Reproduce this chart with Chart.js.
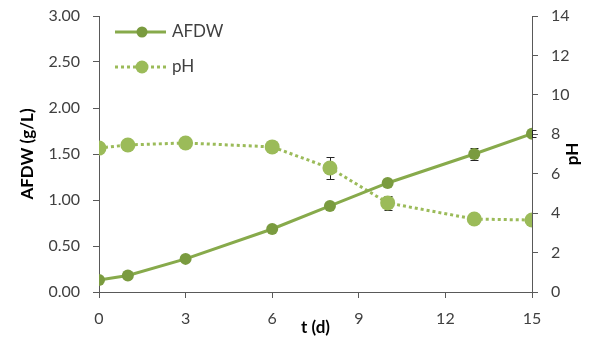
<!DOCTYPE html>
<html>
<head>
<meta charset="utf-8">
<script src="https://cdn.jsdelivr.net/npm/chart.js@4"></script>
<style>
  html, body { margin: 0; padding: 0; background: #fff; }
  #wrap { width: 590px; height: 343px; }
</style>
</head>
<body>
<div id="wrap"><canvas id="chart"></canvas></div>
<script>
// time points (days)
const days = [0, 1, 3, 6, 8, 10, 13, 15];
// ash-free dry weight, g/L
const afdw = [0.13, 0.18, 0.36, 0.685, 0.935, 1.185, 1.50, 1.72];
const afdwErr = [0, 0, 0, 0, 0, 0.01, 0.06, 0.04];
// pH
const ph = [7.3, 7.46, 7.56, 7.36, 6.29, 4.52, 3.7, 3.65];
const phErr = [0, 0, 0, 0, 0.54, 0.35, 0, 0];

const xTicks = [0, 3, 6, 9, 12, 15];

const FONT = "Lato, 'Open Sans', sans-serif";
const AXIS_COLOR = '#595959';
const TEXT_COLOR = '#404040';
const AFDW_LINE = '#87AA4B';
const AFDW_MARK = '#7A9B3F';
const PH_COLOR = '#9BBB59';

// error bars, drawn through the scales
const errorBars = {
  id: 'errorBars',
  beforeDatasetsDraw(chart) {
    const ctx = chart.ctx;
    const x = chart.scales.x;
    const sets = [[afdw, afdwErr, chart.scales.y], [ph, phErr, chart.scales.y2]];
    ctx.save();
    ctx.strokeStyle = '#262626';
    ctx.lineWidth = 1;
    sets.forEach(([vals, errs, sc]) => {
      vals.forEach((v, i) => {
        if (!errs[i]) return;
        const px = Math.round(x.getPixelForValue(days[i])) + 0.5;
        const top = Math.round(sc.getPixelForValue(v + errs[i])) + 0.5;
        const bot = Math.round(sc.getPixelForValue(v - errs[i])) + 0.5;
        ctx.beginPath();
        ctx.moveTo(px, top); ctx.lineTo(px, bot);
        ctx.moveTo(px - 4, top); ctx.lineTo(px + 4, top);
        ctx.moveTo(px - 4, bot); ctx.lineTo(px + 4, bot);
        ctx.stroke();
      });
    });
    ctx.restore();
  }
};

// legend inside plot + right axis title (reads bottom to top)
const extras = {
  id: 'extras',
  afterDraw(chart) {
    const ctx = chart.ctx;
    const a = chart.chartArea;
    ctx.save();
    const lx = a.left + 16;
    const rows = [
      { y: a.top + 16, label: 'AFDW', line: AFDW_LINE, mark: AFDW_MARK, dash: [], r: 5.5 },
      { y: a.top + 51, label: 'pH', line: PH_COLOR, mark: PH_COLOR, dash: [3, 3], r: 6.5 }
    ];
    rows.forEach(row => {
      ctx.strokeStyle = row.line;
      ctx.lineWidth = 3;
      ctx.setLineDash(row.dash);
      ctx.beginPath();
      ctx.moveTo(lx, row.y); ctx.lineTo(lx + 51, row.y);
      ctx.stroke();
      ctx.setLineDash([]);
      ctx.fillStyle = row.mark;
      ctx.beginPath();
      ctx.arc(lx + 27, row.y, row.r, 0, Math.PI * 2);
      ctx.fill();
      ctx.fillStyle = TEXT_COLOR;
      ctx.font = '17px ' + FONT;
      ctx.textBaseline = 'middle';
      ctx.textAlign = 'left';
      ctx.fillText(row.label, lx + 57, row.y);
    });
    ctx.translate(573, (a.top + a.bottom) / 2);
    ctx.rotate(-Math.PI / 2);
    ctx.font = 'bold 17px ' + FONT;
    ctx.fillStyle = '#000';
    ctx.textAlign = 'center';
    ctx.textBaseline = 'middle';
    ctx.fillText('pH', 0, 0);
    ctx.restore();
  }
};

const axisGrid = {
  display: true,
  drawOnChartArea: false,
  drawTicks: true,
  tickLength: 6,
  color: AXIS_COLOR,
  tickColor: AXIS_COLOR
};

// fixed box sizes so the plot area sits where the reference has it
const fixWidth = w => s => { s.width = w; s.paddingTop = 0; s.paddingBottom = 0; };

new Chart(document.getElementById('chart'), {
  type: 'line',
  data: {
    datasets: [
      {
        label: 'AFDW',
        data: days.map((d, i) => ({ x: d, y: afdw[i] })),
        yAxisID: 'y',
        borderColor: AFDW_LINE,
        borderWidth: 3,
        pointBackgroundColor: AFDW_MARK,
        pointBorderColor: AFDW_MARK,
        pointRadius: 6,
        pointBorderWidth: 0,
        tension: 0
      },
      {
        label: 'pH',
        data: days.map((d, i) => ({ x: d, y: ph[i] })),
        yAxisID: 'y2',
        borderColor: PH_COLOR,
        borderWidth: 3,
        borderDash: [3, 3],
        pointBackgroundColor: PH_COLOR,
        pointBorderColor: PH_COLOR,
        pointRadius: 7.5,
        pointBorderWidth: 0,
        tension: 0
      }
    ]
  },
  options: {
    responsive: true,
    maintainAspectRatio: false,
    animation: false,
    layout: { padding: { top: 16, left: 0, right: 0, bottom: 0 } },
    plugins: {
      legend: { display: false },
      tooltip: { enabled: false }
    },
    scales: {
      x: {
        type: 'linear',
        min: 0,
        max: 15,
        afterBuildTicks: s => { s.ticks = xTicks.map(v => ({ value: v })); },
        afterFit: s => { s.height = 51; s.paddingLeft = 0; s.paddingRight = 0; },
        grid: axisGrid,
        border: { color: AXIS_COLOR, width: 1 },
        ticks: { color: TEXT_COLOR, font: { family: FONT, size: 16 }, padding: 11, maxRotation: 0 },
        title: {
          display: true,
          text: 't (d)',
          color: '#000',
          font: { family: FONT, size: 17, weight: 'bold' },
          padding: { top: 0, bottom: 5 }
        }
      },
      y: {
        position: 'left',
        min: 0,
        max: 3,
        afterFit: fixWidth(99),
        grid: axisGrid,
        border: { color: AXIS_COLOR, width: 1 },
        ticks: {
          stepSize: 0.5,
          color: TEXT_COLOR,
          font: { family: FONT, size: 16 },
          padding: 13,
          callback: v => v.toFixed(2)
        },
        title: {
          display: true,
          text: 'AFDW (g/L)',
          color: '#000',
          font: { family: FONT, size: 17, weight: 'bold' },
          padding: { top: 17, bottom: 0 }
        }
      },
      y2: {
        position: 'right',
        min: 0,
        max: 14,
        afterFit: fixWidth(58),
        grid: axisGrid,
        border: { color: AXIS_COLOR, width: 1 },
        ticks: {
          stepSize: 2,
          color: TEXT_COLOR,
          font: { family: FONT, size: 16 },
          padding: 13
        }
      }
    }
  },
  plugins: [errorBars, extras]
});
</script>
</body>
</html>
